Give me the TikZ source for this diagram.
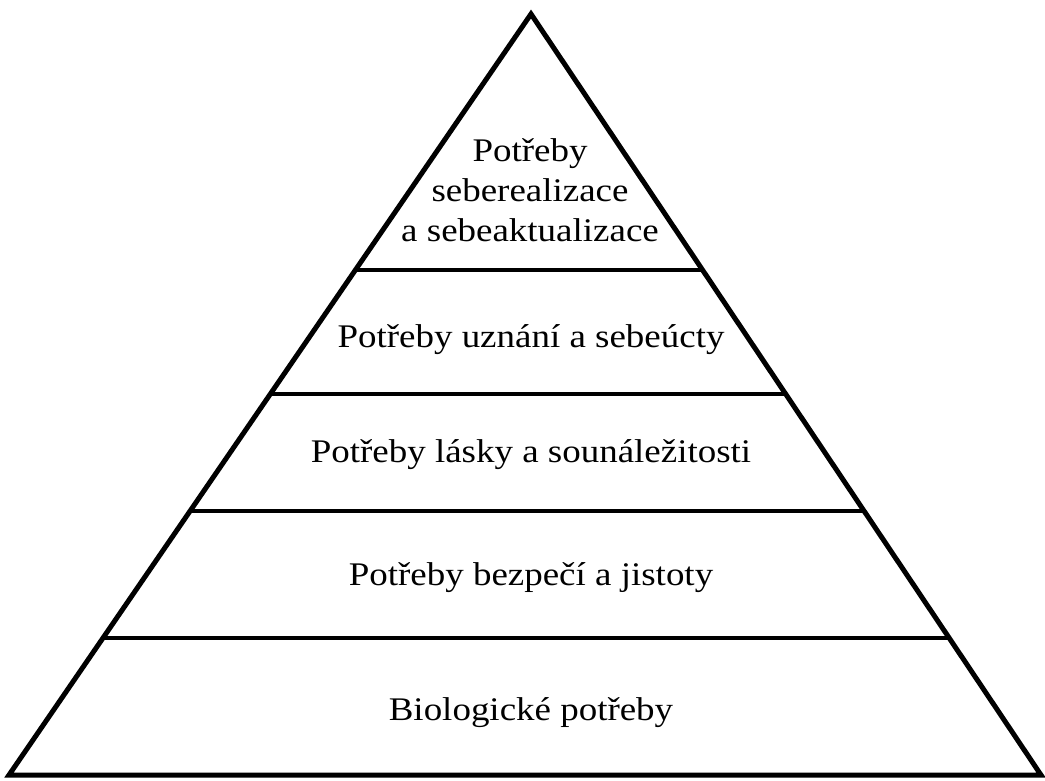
\documentclass[tikz,border=0pt]{standalone}
\usepackage{fontspec}
\setmainfont{Liberation Serif}
\usetikzlibrary{calc}
\begin{document}
\begin{tikzpicture}[x=1pt,y=-1pt,
  side/.style={line width=5pt,line join=miter},
  level/.style={line width=4pt},
  lbl/.style={font=\fontsize{33}{40}\selectfont,align=center,inner sep=0pt,xscale=1.12}]
\useasboundingbox (0,0) rectangle (1045,780);
\coordinate (apex) at (531,14);
\coordinate (bl) at (9,775);
\coordinate (br) at (1041,775);
\draw[side] (bl) -- (apex) -- (br) -- cycle;
\foreach \t/\n in {0.337/a,0.499/b,0.653/c,0.820/d}{
  \coordinate (l\n) at ($(apex)!\t!(bl)$);
  \coordinate (r\n) at ($(apex)!\t!(br)$);
  \draw[level] (l\n) -- (r\n);
}
\node[lbl] (t1) at (530,190) {Potřeby\\seberealizace\\a sebeaktualizace};
\node[lbl,anchor=base] (t2) at (531,347) {Potřeby uznání a sebeúcty};
\node[lbl,anchor=base] (t3) at (531,462) {Potřeby lásky a sounáležitosti};
\node[lbl,anchor=base] (t4) at (531,585) {Potřeby bezpečí a jistoty};
\node[lbl,anchor=base] (t5) at (531,720) {Biologické potřeby};
\end{tikzpicture}
\end{document}
